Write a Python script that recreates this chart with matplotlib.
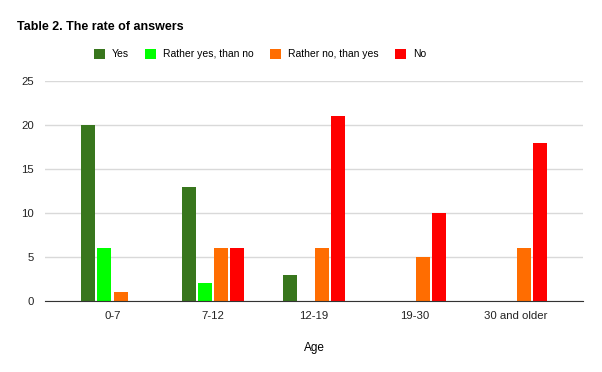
import numpy as np
import matplotlib.pyplot as plt

plt.rcParams['font.family'] = ['Liberation Sans', 'DejaVu Sans']

# data
ages = ['0-7', '7-12', '12-19', '19-30', '30 and older']
answers = ['Yes', 'Rather yes, than no', 'Rather no, than yes', 'No']
yes = [20, 13, 3, 0, 0]
rather_yes = [6, 2, 0, 0, 0]
rather_no = [1, 6, 6, 5, 6]
no = [0, 6, 21, 10, 18]
colors = ['#38761d', '#00ff00', '#ff6d01', '#ff0000']

fig = plt.figure(figsize=(6.02, 3.72), dpi=100)
ax = fig.add_axes([45 / 602, 1 - 301 / 372, 538 / 602, 220 / 372])

x = np.arange(len(ages))
slot = 0.159
width = 0.139
for i, (name, vals) in enumerate(zip(answers, [yes, rather_yes, rather_no, no])):
    offs = (i - 1.5) * slot
    ax.bar(x + offs, vals, width=width, color=colors[i], label=name, zorder=3)

ax.set_xlim(-0.67, 4.67)
ax.set_ylim(0, 25)
ax.set_yticks(range(0, 26, 5))
ax.set_xticks(x)
ax.set_xticklabels(ages)
ax.grid(axis='y', color='#d9d9d9', linewidth=1, zorder=0)
for s in ['top', 'right', 'left']:
    ax.spines[s].set_visible(False)
ax.spines['bottom'].set_color('#333333')
ax.spines['bottom'].set_zorder(4)
ax.tick_params(length=0, labelsize=8.2, colors='#222222')
ax.tick_params(axis='x', pad=7)
ax.tick_params(axis='y', pad=8)
ax.set_xlabel('Age', fontsize=8.5, labelpad=15)

fig.text(17 / 602, 1 - 27 / 372, 'Table 2. The rate of answers', fontsize=9,
         fontweight='bold', va='center', ha='left')
fig.legend(loc='center', bbox_to_anchor=(260 / 602, 1 - 54 / 372), ncol=4,
           frameon=False, fontsize=7.5, handlelength=1.05, handleheight=1.15,
           columnspacing=1.55, handletextpad=0.7)

fig.savefig('out.png', dpi=100)
